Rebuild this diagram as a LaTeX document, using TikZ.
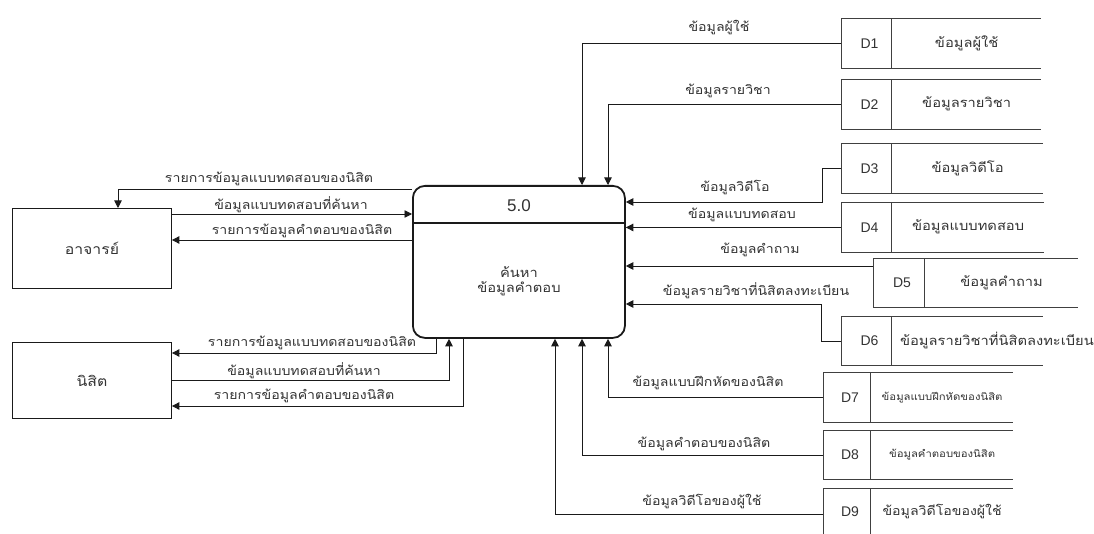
\documentclass[tikz,border=0pt]{standalone}
\usepackage{fontspec}
\setmainfont{Liberation Sans}
\newfontfamily\thai[Script=Thai,FakeStretch=1.13]{Loma}
\usetikzlibrary{calc,arrows.meta}
\definecolor{ink}{HTML}{1A1A1A}
\definecolor{txt}{HTML}{333333}
\definecolor{gline}{HTML}{404040}
\begin{document}
\begin{tikzpicture}[x=1pt,y=-1pt,
  flow/.style={draw=ink, line width=0.9pt, -{Triangle[length=7.5pt,width=7.5pt]}},
  ent/.style={draw=ink, line width=0.9pt, minimum width=159pt, minimum height=80pt, inner sep=0pt, anchor=north west, text=txt, font=\thai\fontsize{14}{16}\selectfont},
  proc/.style={draw=ink, line width=1.8pt, rounded corners=12pt, minimum width=212pt, minimum height=152pt, inner sep=0pt, anchor=north west},
  sid/.style={draw=gline, line width=0.9pt, minimum width=50pt, minimum height=50pt, inner sep=0pt, anchor=north west, text=txt, font=\fontsize{14}{16}\selectfont},
  sname/.style={minimum height=50pt, inner sep=0pt, anchor=north west, text=txt, font=\thai\fontsize{13}{15}\selectfont},
  ssmall/.style={sname, font=\thai\fontsize{10}{12}\selectfont},
  sline/.style={draw=gline, line width=0.9pt},
  lbl/.style={inner sep=0pt, text=txt, font=\thai\fontsize{12.5}{14}\selectfont},
]
\useasboundingbox (0,0) rectangle (1094,534);

% process
\node[proc] (p) at (412,185) {};
\draw[ink, line width=1.6pt] ($(p.north west)+(0,38)$) -- ($(p.north east)+(0,38)$);
\node[text=txt, font=\fontsize{17}{19}\selectfont] (ptitle) at ($(p.north)+(0,21)$) {5.0};
\node[text=txt, align=center, font=\thai\fontsize{13}{15}\selectfont] (pbody) at ($(p.north)+(0,96)$) {ค้นหา\\ข้อมูลคำตอบ};

% entities
\node[ent] (a) at (12,208) {อาจารย์};
\node[ent, minimum height=76pt] (n) at (12,342) {นิสิต};

% data stores
\node[sid] (d1) at (841,18) {\hspace{6pt}D1};
\node[sname, minimum width=149pt] (d1n) at (d1.north east) {ข้อมูลผู้ใช้};
\node[sid] (d2) at (841,79) {\hspace{6pt}D2};
\node[sname, minimum width=149pt] (d2n) at (d2.north east) {ข้อมูลรายวิชา};
\node[sid] (d3) at (841,143) {\hspace{6pt}D3};
\node[sname, minimum width=151pt] (d3n) at (d3.north east) {ข้อมูลวิดีโอ};
\node[sid] (d4) at (841,202) {\hspace{6pt}D4};
\node[sname, minimum width=152pt] (d4n) at (d4.north east) {ข้อมูลแบบทดสอบ};
\node[sid, minimum width=51pt, minimum height=49pt] (d5) at (873,258) {\hspace{6pt}D5};
\node[sname, minimum width=153pt, minimum height=49pt] (d5n) at (d5.north east) {ข้อมูลคำถาม};
\node[sid, minimum height=49pt] (d6) at (841,316) {\hspace{6pt}D6};
\node[sname, minimum width=151pt, minimum height=49pt] (d6n) at (d6.north east) {};
\node[inner sep=0pt, anchor=west, text=txt, font=\thai\fontsize{13}{15}\selectfont] (d6t) at ($(d6n.west)+(8,0)$) {ข้อมูลรายวิชาที่นิสิตลงทะเบียน};
\node[sid, minimum width=47pt] (d7) at (823,372) {\hspace{6pt}D7};
\node[ssmall, minimum width=142pt] (d7n) at (d7.north east) {ข้อมูลแบบฝึกหัดของนิสิต};
\node[sid, minimum width=47pt, minimum height=49pt] (d8) at (823,430) {\hspace{6pt}D8};
\node[ssmall, minimum width=142pt, minimum height=49pt] (d8n) at (d8.north east) {ข้อมูลคำตอบของนิสิต};
\node[sid, draw=none, minimum width=47pt, minimum height=46pt] (d9) at (823,488) {\hspace{6pt}D9};
\node[sname, minimum width=142pt, minimum height=46pt, font=\thai\fontsize{12.5}{14}\selectfont] (d9n) at (d9.north east) {ข้อมูลวิดีโอของผู้ใช้};
\draw[sline] (d9.south west) -- (d9.north west) -- (d9.north east) -- (d9.south east);

\foreach \s in {d1n,d2n,d3n,d4n,d5n,d6n,d7n,d8n}
  \draw[sline] (\s.north west) -- (\s.north east) (\s.south west) -- (\s.south east);
\draw[sline] (d9n.north west) -- (d9n.north east);

% flows from stores
\draw[flow] (d1.west) -| ($(p.north west)+(170,0)$);
\draw[flow] (d2.west) -| ($(p.north west)+(196,0)$);
\draw[flow] (d3.west) -- ++(-19,0) |- ($(p.north east)+(0,17)$);
\draw[flow] (d4.west) -- (d4.west -| p.east);
\draw[flow] ($(d5.north west)+(0,8)$) -- ($(p.north east)+(0,81)$);
\draw[flow] (d6.west) -- ++(-20,0) |- ($(p.north east)+(0,119)$);
\draw[flow] (d7.west) -| ($(p.south west)+(196,0)$);
\draw[flow] (d8.west) -| ($(p.south west)+(170,0)$);
\draw[flow] ($(d9.north west)+(0,26)$) -| ($(p.south west)+(143,0)$);

% flows with entities
\draw[flow] ($(p.north west)+(0,4)$) -| ($(a.north west)+(106,0)$);
\draw[flow] ($(a.north east)+(0,6)$) -- ($(p.north west)+(0,29)$);
\draw[flow] ($(p.north west)+(0,55)$) -- ($(a.north east)+(0,32)$);
\draw[flow] ($(p.south west)+(24,0)$) |- ($(n.north east)+(0,11)$);
\draw[flow] ($(n.north east)+(0,38)$) -| ($(p.south west)+(37,0)$);
\draw[flow] ($(p.south west)+(51,0)$) |- ($(n.north east)+(0,64)$);

% labels
\node[lbl] (l1) at (719,28) {ข้อมูลผู้ใช้};
\node[lbl] (l2) at (728,91) {ข้อมูลรายวิชา};
\node[lbl] (l3) at (735,188) {ข้อมูลวิดีโอ};
\node[lbl] (l4) at (742,215) {ข้อมูลแบบทดสอบ};
\node[lbl] (l5) at (760,250) {ข้อมูลคำถาม};
\node[lbl] (l6) at (756,291) {ข้อมูลรายวิชาที่นิสิตลงทะเบียน};
\node[lbl] (l7) at (708,383) {ข้อมูลแบบฝึกหัดของนิสิต};
\node[lbl] (l8) at (704,444) {ข้อมูลคำตอบของนิสิต};
\node[lbl] (l9) at (702,501) {ข้อมูลวิดีโอของผู้ใช้};
\node[lbl] (la1) at (269,179) {รายการข้อมูลแบบทดสอบของนิสิต};
\node[lbl] (la2) at (291,205) {ข้อมูลแบบทดสอบที่ค้นหา};
\node[lbl] (la3) at (302,231) {รายการข้อมูลคำตอบของนิสิต};
\node[lbl] (ln1) at (312,343) {รายการข้อมูลแบบทดสอบของนิสิต};
\node[lbl] (ln2) at (304,371) {ข้อมูลแบบทดสอบที่ค้นหา};
\node[lbl] (ln3) at (304,396) {รายการข้อมูลคำตอบของนิสิต};
\end{tikzpicture}
\end{document}
